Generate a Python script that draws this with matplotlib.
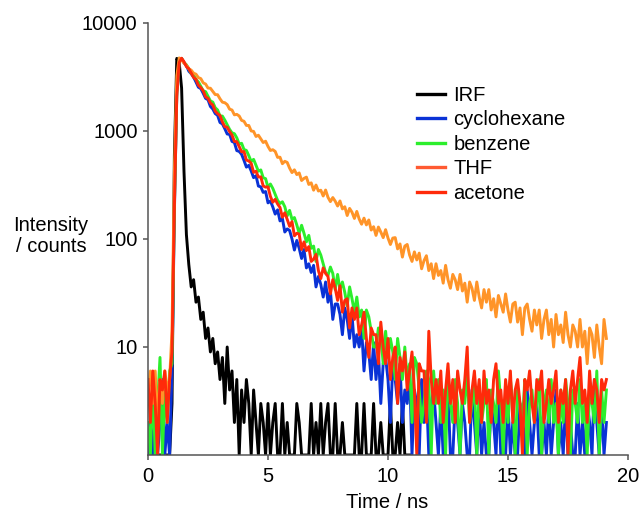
import numpy as np
import matplotlib
matplotlib.use("Agg")
import matplotlib.pyplot as plt
from matplotlib.lines import Line2D

# TCSPC decay histograms: counts per 0.1 ns channel, first channel at t = 0
channel_ns = 0.1

irf = [
    1, 1, 1, 1, 1, 1, 1, 1, 1, 1,
    3, 600, 4700, 4300, 2500, 420, 110, 58, 36, 42,
    26, 29, 18, 21, 12, 15, 9, 12, 7, 9,
    5, 8, 3, 10, 4, 6, 2, 5, 1, 4,
    2, 5, 3, 1, 4, 2, 1, 3, 2, 1,
    3, 1, 2, 3, 1, 1, 3, 1, 2, 1,
    1, 1, 3, 2, 1, 1, 1, 1, 3, 1,
    2, 1, 3, 1, 2, 3, 1, 1, 3, 1,
    1, 2, 1, 1, 1, 1, 1, 3, 1, 1,
    3, 1, 1, 1, 3, 1, 1, 2, 1, 1,
    1, 3, 1, 1, 2, 1, 3, 1, 1, 1,
]

cyclohexane = [
    1, 2, 1, 3, 1, 2, 5, 1, 2, 1,
    6, 180, 2300, 4400, 4700, 4290, 4050, 3582, 3393, 3150,
    2839, 2543, 2469, 2234, 2004, 1949, 1688, 1598, 1450, 1396,
    1198, 1164, 1050, 938, 931, 801, 782, 658, 647, 608,
    534, 463, 481, 426, 370, 385, 309, 304, 270, 275,
    216, 225, 198, 170, 186, 147, 155, 116, 124, 120,
    100, 79, 97, 82, 66, 80, 54, 59, 49, 57,
    36, 45, 38, 29, 40, 26, 33, 18, 25, 25,
    20, 13, 23, 18, 12, 20, 10, 13, 10, 15,
    6, 11, 9, 5, 11, 5, 9, 3, 7, 8,
    5, 2, 7, 5, 3, 7, 2, 4, 3, 6,
    1, 4, 3, 1, 5, 2, 4, 1, 3, 4,
    2, 1, 3, 1, 2, 4, 1, 1, 3, 2,
    1, 3, 2, 1, 1, 4, 2, 1, 3, 1,
    2, 1, 1, 3, 2, 1, 4, 1, 2, 1,
    3, 1, 2, 1, 1, 3, 2, 1, 4, 2,
    1, 2, 3, 1, 1, 2, 1, 3, 1, 2,
    4, 1, 2, 1, 3, 1, 2, 1, 1, 3,
    1, 2, 1, 3, 2, 1, 5, 2, 1, 3,
    1, 2,
]

benzene = [
    2, 1, 5, 1, 3, 8, 1, 4, 2, 6,
    7, 210, 2300, 4450, 4680, 4300, 4100, 3778, 3414, 3310,
    2989, 2849, 2596, 2356, 2314, 2097, 1899, 1851, 1643, 1566,
    1378, 1374, 1262, 1143, 1035, 962, 944, 864, 758, 770,
    674, 661, 591, 523, 546, 482, 424, 436, 369, 362,
    300, 323, 294, 259, 228, 213, 221, 199, 164, 184,
    152, 158, 135, 113, 134, 113, 94, 108, 82, 86,
    62, 80, 71, 59, 49, 46, 55, 48, 34, 47,
    34, 40, 32, 24, 36, 28, 21, 29, 19, 22,
    12, 22, 19, 14, 10, 10, 15, 13, 7, 14,
    8, 12, 9, 5, 12, 8, 5, 10, 5, 7,
    2, 8, 7, 4, 2, 3, 6, 5, 1, 6,
    3, 5, 2, 4, 1, 6, 3, 2, 5, 3,
    1, 4, 3, 6, 2, 3, 5, 1, 4, 2,
    3, 5, 1, 4, 3, 2, 6, 3, 1, 4,
    2, 5, 3, 1, 4, 3, 2, 5, 1, 3,
    4, 2, 3, 5, 1, 3, 4, 2, 5, 2,
    3, 1, 4, 2, 5, 3, 1, 4, 3, 2,
    5, 2, 3, 1, 4, 3, 2, 6, 1, 4,
    2, 4,
]

thf = [
    4, 6, 3, 6, 2, 5, 3, 6, 4, 5,
    14, 420, 3250, 4750, 4540, 4250, 4060, 3770, 3660, 3430,
    3356, 3122, 3056, 2792, 2721, 2499, 2488, 2328, 2175, 2168,
    1986, 1849, 1828, 1755, 1593, 1565, 1411, 1426, 1377, 1254,
    1230, 1126, 1125, 1001, 991, 890, 914, 846, 782, 804,
    719, 660, 671, 647, 570, 572, 498, 524, 512, 453,
    412, 437, 395, 409, 348, 364, 374, 320, 331, 283,
    316, 278, 283, 250, 284, 243, 222, 242, 224, 202,
    225, 190, 199, 165, 192, 177, 155, 180, 153, 137,
    156, 135, 150, 121, 130, 108, 129, 116, 103, 122,
    102, 89, 102, 103, 81, 90, 68, 86, 89, 71,
    62, 76, 64, 74, 53, 63, 70, 51, 59, 43,
    59, 46, 51, 39, 57, 42, 35, 47, 42, 34,
    47, 33, 39, 26, 40, 35, 27, 40, 29, 23,
    34, 26, 34, 22, 28, 19, 30, 25, 21, 31,
    22, 17, 25, 26, 17, 23, 13, 23, 25, 18,
    14, 22, 16, 22, 12, 18, 22, 13, 18, 10,
    20, 13, 16, 11, 21, 13, 10, 16, 14, 10,
    18, 10, 14, 7, 15, 13, 8, 16, 10, 7,
    18, 12,
]

acetone = [
    5, 2, 6, 3, 1, 5, 4, 6, 2, 5,
    9, 200, 2100, 4300, 4720, 4380, 3942, 3775, 3445, 3134,
    3009, 2654, 2521, 2360, 2073, 2006, 1817, 1741, 1528, 1446,
    1392, 1215, 1098, 1082, 988, 918, 800, 797, 718, 642,
    645, 538, 528, 502, 414, 424, 375, 376, 310, 302,
    304, 248, 219, 233, 211, 196, 159, 175, 152, 131,
    145, 107, 113, 111, 80, 94, 78, 85, 62, 65,
    72, 51, 43, 54, 48, 45, 31, 42, 35, 27,
    37, 21, 27, 28, 15, 23, 18, 23, 13, 16,
    21, 12, 8, 15, 13, 13, 7, 17, 10, 7,
    12, 5, 8, 10, 3, 8, 6, 9, 4, 6,
    9, 4, 1, 7, 6, 6, 2, 14, 5, 3,
    5, 3, 6, 2, 4, 7, 3, 5, 2, 6,
    4, 3, 5, 10, 2, 4, 6, 3, 5, 2,
    6, 3, 4, 2, 5, 7, 3, 4, 2, 5,
    3, 6, 2, 4, 5, 3, 1, 5, 4, 6,
    3, 2, 5, 4, 6, 2, 3, 5, 3, 4,
    6, 2, 4, 3, 5, 1, 4, 6, 3, 5,
    8, 3, 4, 2, 6, 3, 5, 4, 2, 5,
    4, 5,
]

labels = ["IRF", "cyclohexane", "benzene", "THF", "acetone"]
x_ticks = [0, 5, 10, 15, 20]
y_ticks = [10, 100, 1000, 10000]

# curve colours; THF's legend swatch is redder than its curve in the original
line_colors = ["black", "#0a32d6", "#2cee2c", "#ff9428", "#ff2a0a"]
legend_colors = ["black", "#0a32d6", "#2cee2c", "#ff5a32", "#ff2a0a"]

plt.rcParams["font.family"] = ["Liberation Sans", "DejaVu Sans"]
plt.rcParams["font.size"] = 14.5

fig = plt.figure(figsize=(6.41, 5.13), dpi=100)
ax = fig.add_axes([148 / 641, 58 / 513, 480 / 641, 432 / 513])

for series, color in zip([irf, cyclohexane, benzene, thf, acetone], line_colors):
    t = np.arange(len(series)) * channel_ns
    ax.plot(t, series, color=color, linewidth=2.1)

ax.set_yscale("log")
ax.set_xlim(0, 20)
ax.set_ylim(1, 10000)
ax.set_xticks(x_ticks)
ax.set_xticklabels([str(v) for v in x_ticks])
ax.set_yticks(y_ticks)
ax.set_yticklabels([str(v) for v in y_ticks])
ax.yaxis.set_minor_locator(matplotlib.ticker.NullLocator())

for side in ["top", "right"]:
    ax.spines[side].set_visible(False)
for side in ["left", "bottom"]:
    ax.spines[side].set_color("#555555")
    ax.spines[side].set_linewidth(1.1)
ax.tick_params(axis="both", direction="out", length=3.5, width=1.1,
               color="#555555", labelcolor="black")
ax.tick_params(axis="y", pad=4)
ax.tick_params(axis="x", pad=5)

fig.text(387 / 641, 1 - 503 / 513, "Time / ns", ha="center", va="center")
fig.text(51 / 641, 1 - 236 / 513, "Intensity\n/ counts", ha="center",
         va="center", linespacing=1.1)

handles = [Line2D([], [], color=c, linewidth=2.4) for c in legend_colors]
ax.legend(handles, labels, loc="upper left", bbox_to_anchor=(417 / 641, 1 - 86 / 513),
          bbox_transform=fig.transFigure, frameon=False, borderpad=0,
          borderaxespad=0, handlelength=1.4, handletextpad=0.4, labelspacing=0.27)

fig.savefig("out.png", dpi=100)
